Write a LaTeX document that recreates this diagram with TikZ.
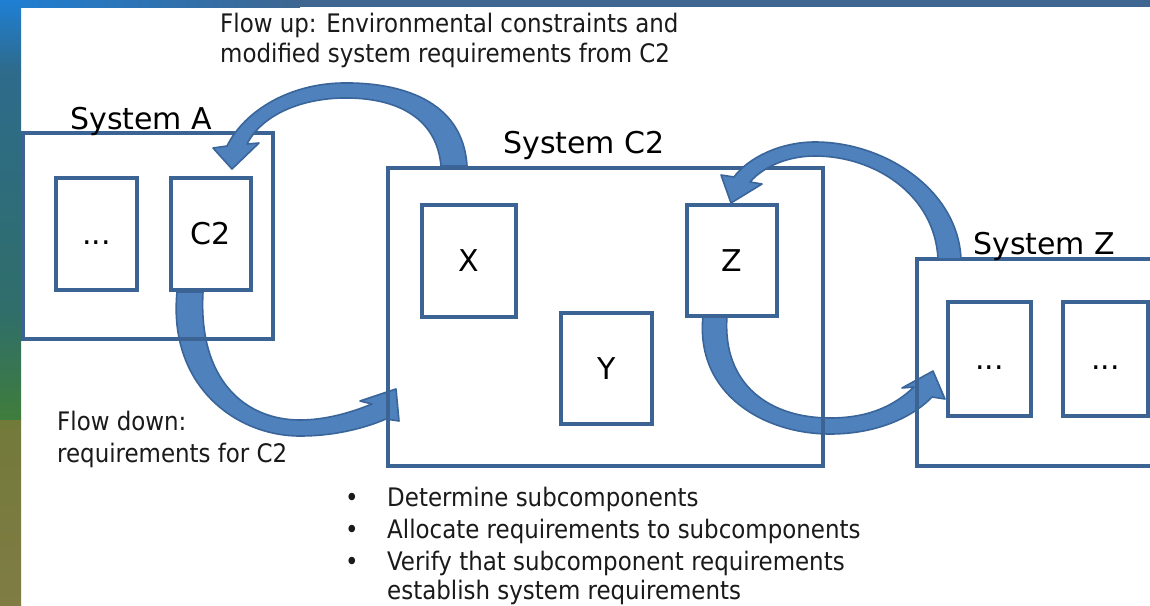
\documentclass[tikz,border=0pt]{standalone}
\usepackage{fontspec}
\setmainfont{DejaVu Sans}
\newfontfamily\labelfont{DejaVu Sans Condensed}
\definecolor{boxblue}{HTML}{3B6495}
\definecolor{arrowfill}{HTML}{4F81BD}
\definecolor{arrowline}{HTML}{3A659A}
\definecolor{txt}{HTML}{1A1A1A}
\definecolor{bgtop}{HTML}{3E6690}
\definecolor{bgA}{HTML}{1F7FD4}
\definecolor{bgB}{HTML}{2E6B8C}
\definecolor{bgC}{HTML}{2F6E6A}
\definecolor{bgD}{HTML}{3F7D3C}
\definecolor{bgE}{HTML}{727A3A}
\definecolor{bgF}{HTML}{807C44}
\tikzset{
  sysbox/.style={draw=boxblue, line width=3.5pt, inner sep=0pt},
  subbox/.style={draw=boxblue, line width=3.5pt, inner sep=0pt, font=\fontsize{30}{36}\selectfont},
  heading/.style={anchor=base west, inner sep=0pt, font=\fontsize{30}{36}\selectfont, text=black},
  lbl/.style={anchor=base west, inner sep=0pt, font=\labelfont\fontsize{25.5}{30}\selectfont, text=txt},
  blockarrow/.style={fill=arrowfill, draw=arrowline, line width=1.6pt, line join=round}
}
\begin{document}
\begin{tikzpicture}[x=1pt,y=-1pt]
\useasboundingbox (0,0) rectangle (1150,605);
% background
\fill[white] (0,0) rectangle (1150,605);
\shade[left color=bgA, right color=bgtop] (0,0) rectangle (300,7);
\fill[bgtop] (300,0) rectangle (1150,7);
\shade[top color=bgA, bottom color=bgB] (0,0) rectangle (21,70);
\shade[top color=bgB, bottom color=bgC] (0,70) rectangle (21,310);
\shade[top color=bgC, bottom color=bgD] (0,310) rectangle (21,420);
\shade[top color=bgE, bottom color=bgF] (0,420) rectangle (21,605);

% arrows that lie under the boxes
% flow down: C2 -> System C2
\path[blockarrow] (177,292) .. controls (168,385) and (235,436) .. (300,436)
  .. controls (335,436) and (365,428) .. (386,419) -- (399,421) -- (396,389) -- (360,401) -- (372,404)
  .. controls (350,413) and (325,420) .. (300,420)
  .. controls (245,420) and (198,380) .. (203,292) -- cycle;
% Z -> System Z
\path[blockarrow] (703,316) .. controls (695,395) and (765,434) .. (830,434)
  .. controls (880,434) and (915,415) .. (932,397) -- (945,399) -- (933,371) -- (902,388) -- (914,387)
  .. controls (895,405) and (870,418) .. (830,418)
  .. controls (770,418) and (722,385) .. (727,316) -- cycle;

% boxes
\node[sysbox, minimum width=250pt, minimum height=206pt] (sysA) at (148,236) {};
\node[subbox, minimum width=81pt, minimum height=112pt] (dotsA) at (96.5,234) {\vphantom{C2}...};
\node[subbox, minimum width=80pt, minimum height=112pt] (c2) at (211,234) {C2};
\node[sysbox, minimum width=435pt, minimum height=298pt] (sysC) at (605.5,317) {};
\node[subbox, minimum width=94pt, minimum height=112pt] (x) at (469,261) {X};
\node[subbox, minimum width=91pt, minimum height=111pt] (y) at (606.5,368.5) {Y};
\node[subbox, minimum width=90pt, minimum height=111pt] (z) at (732,260.5) {Z};
\node[sysbox, minimum width=246pt, minimum height=207pt] (sysZ) at (1040,362.5) {};
\node[subbox, minimum width=83pt, minimum height=114pt] (z1) at (989.5,359) {\vphantom{C2}...};
\node[subbox, minimum width=85pt, minimum height=114pt] (z2) at (1105.5,359) {\vphantom{C2}...};

% arrows on top of the boxes
% flow up: System C2 -> C2
\path[blockarrow] (467,166) .. controls (463,100) and (400,82) .. (342,83)
  .. controls (290,84) and (245,110) .. (227,146) -- (213,148) -- (232,169) -- (259,143) -- (247,144)
  .. controls (262,115) and (300,99) .. (342,98)
  .. controls (400,97) and (437,120) .. (441,166) -- cycle;
% System Z -> Z
\path[blockarrow] (961,259) .. controls (958,190) and (885,142) .. (815,142)
  .. controls (780,142) and (748,158) .. (734,177) -- (721,175) -- (731,203) -- (762,184) -- (750,182)
  .. controls (765,165) and (790,156) .. (815,156)
  .. controls (875,156) and (935,195) .. (938,259) -- cycle;

% headings
\node[heading] (hA) at (70,129) {System A};
\node[heading] (hC) at (503,153) {System C2};
\node[heading] (hZ) at (973,254) {System Z};

% labels
\node[lbl] (up1) at (220,32) {Flow up: Environmental constraints and};
\node[lbl] (up2) at (220,62) {modified system requirements from C2};
\node[lbl] (dn1) at (57,430) {Flow down:};
\node[lbl] (dn2) at (57,462) {requirements for C2};

% bullets
\node[lbl, anchor=base] (b1) at (352,506) {\textbullet};
\node[lbl] (t1) at (387,506) {Determine subcomponents};
\node[lbl, anchor=base] (b2) at (352,538) {\textbullet};
\node[lbl] (t2) at (387,538) {Allocate requirements to subcomponents};
\node[lbl, anchor=base] (b3) at (352,570) {\textbullet};
\node[lbl] (t3) at (387,570) {Verify that subcomponent requirements};
\node[lbl] (t4) at (387,599) {establish system requirements};
\end{tikzpicture}
\end{document}
